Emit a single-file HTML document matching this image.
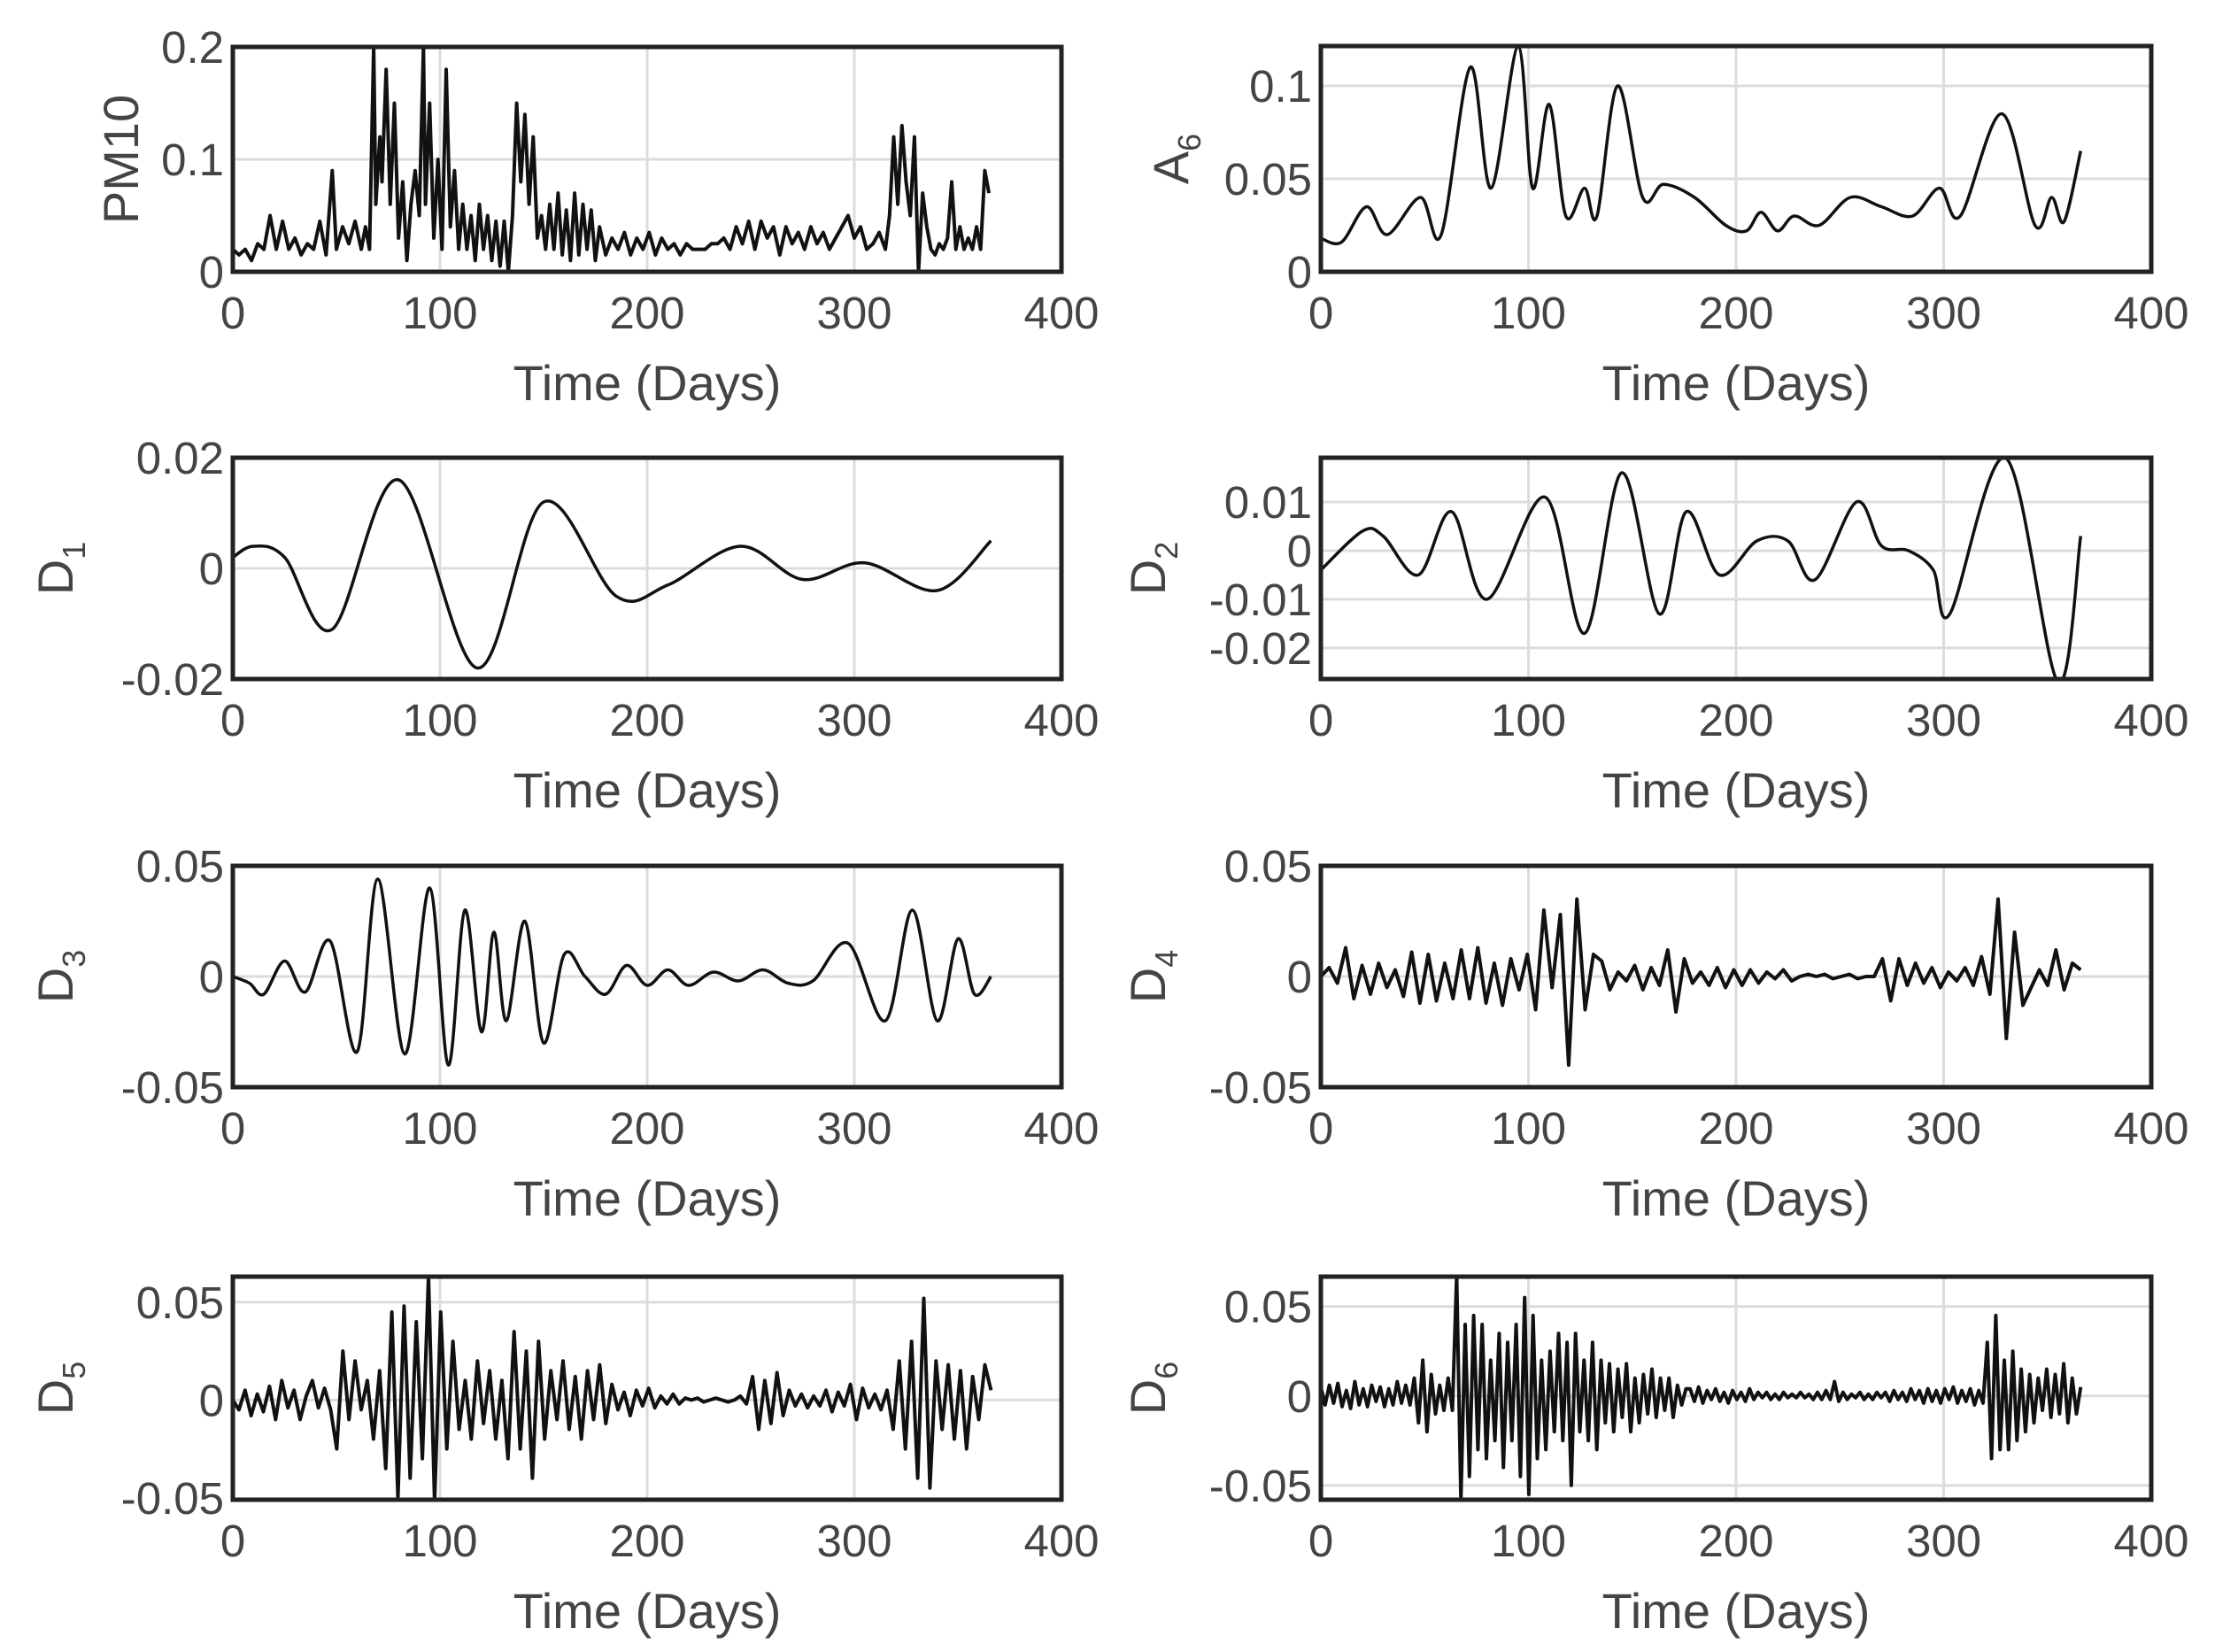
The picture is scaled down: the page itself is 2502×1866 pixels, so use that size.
<!DOCTYPE html>
<html><head><meta charset="utf-8"><style>
html,body{margin:0;padding:0;background:#fff;}
svg{display:block;}
text{font-family:"Liberation Sans",Arial,sans-serif;fill:#444;}
</style></head><body>
<svg id="fig" width="2502" height="1866" viewBox="0 0 2502 1866" xmlns="http://www.w3.org/2000/svg"></svg>
<script>
// ---- data ----
const pm10Days=[0,3,6,9,12,15,18,21,24,27,30,33,36,39,42,45,48,50,53,56,59,62,64,66,68,69,71,72,74,76,78,80,82,84,86,88,90,92,93,95,97,99,101,103,105,107,109,111,113,115,117,119,121,123,125,127,129,131,133,135,137,139,141,143,145,147,149,151,153,155,157,159,161,163,165,167,169,171,173,175,177,180,183,186,189,192,195,198,201,204,207,210,213,216,219,222,225,228,231,234,237,240,243,246,249,252,255,258,261,264,267,270,273,276,279,282,285,288,291,294,297,300,303,306,309,312,315,317,319,321,323,325,327,329,331,333,335,337,339,341,343,345,347,349,351,353,355,357,359,361,363,365];
const pm10Values=[0.02,0.015,0.02,0.01,0.025,0.02,0.05,0.02,0.045,0.02,0.03,0.015,0.025,0.02,0.045,0.015,0.09,0.02,0.04,0.025,0.045,0.02,0.04,0.02,0.2,0.06,0.12,0.08,0.18,0.06,0.15,0.03,0.08,0.01,0.06,0.09,0.05,0.2,0.06,0.15,0.03,0.1,0.02,0.18,0.04,0.09,0.02,0.06,0.02,0.05,0.01,0.06,0.02,0.05,0.01,0.045,0.005,0.045,0.0,0.05,0.15,0.08,0.14,0.06,0.12,0.03,0.05,0.02,0.06,0.02,0.07,0.015,0.055,0.01,0.07,0.015,0.06,0.02,0.055,0.01,0.04,0.015,0.03,0.02,0.035,0.015,0.03,0.02,0.035,0.015,0.03,0.02,0.025,0.015,0.025,0.02,0.02,0.02,0.025,0.025,0.03,0.02,0.04,0.025,0.045,0.02,0.045,0.03,0.04,0.015,0.04,0.025,0.035,0.02,0.04,0.025,0.035,0.02,0.03,0.04,0.05,0.03,0.04,0.02,0.025,0.035,0.02,0.05,0.12,0.06,0.13,0.08,0.05,0.12,0.0,0.07,0.04,0.02,0.015,0.025,0.02,0.03,0.08,0.02,0.04,0.02,0.03,0.02,0.04,0.02,0.09,0.07];
const a6Days=[0,10,22,32,48,58,72,82,95,102,110,118,127,133,143,155,165,180,195,205,212,220,228,240,255,270,285,298,308,328,344,352,358,366];
const a6Values=[0.018,0.016,0.035,0.02,0.04,0.02,0.11,0.045,0.121,0.045,0.09,0.03,0.045,0.03,0.1,0.04,0.047,0.04,0.025,0.022,0.032,0.022,0.03,0.025,0.04,0.035,0.03,0.045,0.03,0.085,0.025,0.04,0.027,0.065];
const d1Days=[0,10,25,48,80,118,150,185,210,245,275,305,340,366];
const d1Values=[0.002,0.004,0.002,-0.011,0.016,-0.018,0.012,-0.005,-0.003,0.004,-0.002,0.001,-0.004,0.005];
const d2Days=[0,20,30,47,63,80,108,127,145,163,176,192,210,225,238,258,270,283,295,303,330,355,366];
const d2Values=[-0.004,0.004,0.003,-0.005,0.008,-0.01,0.011,-0.017,0.016,-0.013,0.008,-0.005,0.002,0.002,-0.006,0.01,0.001,0.0,-0.004,-0.013,0.019,-0.027,0.003];
const d3Days=[0,8,15,25,35,47,60,70,83,95,104,112,120,126,132,141,150,160,170,180,190,200,210,220,232,244,256,268,280,297,315,328,340,350,358,366];
const d3Values=[0,-0.003,-0.008,0.007,-0.007,0.016,-0.034,0.044,-0.035,0.04,-0.04,0.03,-0.025,0.02,-0.02,0.025,-0.03,0.01,0,-0.008,0.005,-0.004,0.003,-0.004,0.002,-0.002,0.003,-0.003,-0.002,0.015,-0.02,0.03,-0.02,0.017,-0.008,0];
const d4Values=[0,0.004,-0.003,0.013,-0.01,0.005,-0.008,0.006,-0.005,0.003,-0.009,0.011,-0.012,0.01,-0.011,0.006,-0.01,0.012,-0.01,0.013,-0.012,0.006,-0.013,0.008,-0.006,0.01,-0.015,0.03,-0.005,0.028,-0.04,0.035,-0.015,0.01,0.007,-0.006,0.002,-0.002,0.005,-0.006,0.004,-0.004,0.012,-0.016,0.008,-0.003,0.002,-0.004,0.004,-0.005,0.003,-0.004,0.003,-0.003,0.002,-0.001,0.003,-0.002,0,0.001,0,0.001,-0.001,0,0.001,-0.001,0,0,0.008,-0.011,0.008,-0.004,0.006,-0.003,0.004,-0.005,0.002,-0.002,0.004,-0.004,0.009,-0.008,0.035,-0.028,0.02,-0.013,-0.005,0.003,-0.004,0.012,-0.006,0.006,0.003];
const d5Values=[0,-0.005,0.005,-0.008,0.003,-0.006,0.007,-0.01,0.01,-0.004,0.005,-0.01,0.002,0.01,-0.004,0.006,-0.005,-0.025,0.025,-0.01,0.02,-0.005,0.01,-0.02,0.015,-0.035,0.045,-0.05,0.048,-0.04,0.04,-0.03,0.063,-0.052,0.045,-0.025,0.03,-0.015,0.01,-0.02,0.02,-0.012,0.015,-0.02,0.01,-0.03,0.035,-0.025,0.025,-0.04,0.03,-0.02,0.015,-0.01,0.02,-0.015,0.012,-0.02,0.015,-0.01,0.018,-0.012,0.008,-0.005,0.004,-0.008,0.005,-0.003,0.006,-0.004,0.002,-0.002,0.003,-0.002,0.001,0,0.001,-0.001,0,0.001,0,-0.001,0,0.002,-0.002,0.012,-0.015,0.01,-0.012,0.014,-0.008,0.005,-0.003,0.003,-0.004,0.002,-0.003,0.005,-0.006,0.004,-0.003,0.008,-0.01,0.006,-0.004,0.003,-0.005,0.005,-0.015,0.02,-0.025,0.03,-0.04,0.052,-0.045,0.02,-0.015,0.018,-0.02,0.015,-0.025,0.012,-0.01,0.018,0.005];
const d6Values=[0.005,-0.005,0.006,-0.004,0.007,-0.006,0.003,-0.007,0.008,-0.005,0.004,-0.006,0.006,-0.003,0.005,-0.006,0.004,-0.005,0.008,-0.004,0.006,-0.005,0.01,-0.015,0.02,-0.02,0.012,-0.01,0.006,-0.008,0.01,-0.008,0.067,-0.058,0.04,-0.045,0.045,-0.03,0.04,-0.035,0.02,-0.025,0.035,-0.04,0.03,-0.025,0.04,-0.045,0.055,-0.055,0.045,-0.035,0.02,-0.03,0.025,-0.02,0.035,-0.025,0.03,-0.05,0.035,-0.02,0.02,-0.025,0.03,-0.03,0.02,-0.015,0.018,-0.02,0.015,-0.012,0.018,-0.02,0.01,-0.015,0.012,-0.01,0.015,-0.012,0.01,-0.008,0.01,-0.012,0.006,-0.005,0.004,0.004,-0.003,0.005,-0.004,0.003,-0.002,0.004,-0.003,0.002,-0.004,0.003,-0.002,0.002,-0.003,0.004,-0.002,0.002,-0.001,0.002,-0.002,0.001,-0.002,0.002,-0.001,0.001,-0.001,0.002,-0.001,0.001,-0.002,0.002,-0.002,0.003,-0.002,0.008,-0.003,0.002,-0.002,0.001,-0.001,0.002,-0.002,0.001,-0.002,0.002,-0.001,0.002,-0.003,0.003,-0.002,0.002,-0.003,0.004,-0.002,0.003,-0.004,0.004,-0.003,0.003,-0.004,0.004,-0.002,0.005,-0.004,0.003,-0.003,0.004,-0.005,0.003,-0.004,0.03,-0.035,0.045,-0.03,0.02,-0.03,0.025,-0.025,0.015,-0.02,0.012,-0.015,0.01,-0.008,0.015,-0.012,0.012,-0.01,0.018,-0.015,0.01,-0.01,0.005];
const xTickValues=[0,100,200,300,400];
const xTickLabels=["0","100","200","300","400"];
const pm10Ticks=[0,0.1,0.2], pm10TickLabels=["0","0.1","0.2"];
const a6Ticks=[0,0.05,0.1], a6TickLabels=["0","0.05","0.1"];
const d1Ticks=[-0.02,0,0.02], d1TickLabels=["-0.02","0","0.02"];
const d2Ticks=[-0.02,-0.01,0,0.01], d2TickLabels=["-0.02","-0.01","0","0.01"];
const d3Ticks=[-0.05,0,0.05], d3TickLabels=["-0.05","0","0.05"];
const d4Ticks=[-0.05,0,0.05], d4TickLabels=["-0.05","0","0.05"];
const d5Ticks=[-0.05,0,0.05], d5TickLabels=["-0.05","0","0.05"];
const d6Ticks=[-0.05,0,0.05], d6TickLabels=["-0.05","0","0.05"];

// ---- layout ----
const NS="http://www.w3.org/2000/svg";
const svg=document.getElementById('fig');
function mk(tag,attrs,parent){const e=document.createElementNS(NS,tag);for(const k in attrs)e.setAttribute(k,attrs[k]);(parent||svg).appendChild(e);return e;}
function evenDays(vals){return vals.map((v,i)=>i*366/(vals.length-1));}
const panels=[
 {name:'pm10',x:263,y:53,w:936,h:254,ymin:0,ymax:0.2,ticks:pm10Ticks,labels:pm10TickLabels,lab:'PM10',sub:'',lx:136,days:pm10Days,vals:pm10Values,smooth:false},
 {name:'a6',x:1492,y:52,w:938,h:255,ymin:0,ymax:0.1214,ticks:a6Ticks,labels:a6TickLabels,lab:'A',sub:'6',lx:1322,days:a6Days,vals:a6Values,smooth:true},
 {name:'d1',x:263,y:517,w:936,h:250,ymin:-0.02,ymax:0.02,ticks:d1Ticks,labels:d1TickLabels,lab:'D',sub:'1',lx:62,days:d1Days,vals:d1Values,smooth:true},
 {name:'d2',x:1492,y:517,w:938,h:250,ymin:-0.0264,ymax:0.0191,ticks:d2Ticks,labels:d2TickLabels,lab:'D',sub:'2',lx:1296,days:d2Days,vals:d2Values,smooth:true},
 {name:'d3',x:263,y:978,w:936,h:250,ymin:-0.05,ymax:0.05,ticks:d3Ticks,labels:d3TickLabels,lab:'D',sub:'3',lx:62,days:d3Days,vals:d3Values,smooth:true},
 {name:'d4',x:1492,y:978,w:938,h:250,ymin:-0.05,ymax:0.05,ticks:d4Ticks,labels:d4TickLabels,lab:'D',sub:'4',lx:1296,days:evenDays(d4Values),vals:d4Values,smooth:false},
 {name:'d5',x:263,y:1442,w:936,h:252,ymin:-0.051,ymax:0.0631,ticks:d5Ticks,labels:d5TickLabels,lab:'D',sub:'5',lx:62,days:evenDays(d5Values),vals:d5Values,smooth:false},
 {name:'d6',x:1492,y:1442,w:938,h:252,ymin:-0.058,ymax:0.0667,ticks:d6Ticks,labels:d6TickLabels,lab:'D',sub:'6',lx:1296,days:evenDays(d6Values),vals:d6Values,smooth:false}
];
panels.forEach(p=>{
  const g=mk('g',{});
  
  
  const sx=d=>p.x+d/400*p.w;
  const sy=v=>p.y+p.h-(v-p.ymin)/(p.ymax-p.ymin)*p.h;
  xTickValues.forEach((t,i)=>{
    if(i>0&&i<xTickValues.length-1){const l=mk('line',{x1:sx(t),x2:sx(t),y1:p.y,y2:p.y+p.h,stroke:'#dcdcdc','stroke-width':3},g);
      
      }
    const tx=mk('text',{x:sx(t),y:p.y+p.h+64,'font-size':51,'text-anchor':'middle'},g);
    tx.textContent=xTickLabels[i];
    
    
  });
  p.ticks.forEach((t,i)=>{
    const y=sy(t);
    if(y>p.y+3&&y<p.y+p.h-3){const l=mk('line',{x1:p.x,x2:p.x+p.w,y1:y,y2:y,stroke:'#dcdcdc','stroke-width':3},g);
      
      }
    const tx=mk('text',{x:p.x-10,y:y+18,'font-size':51,'text-anchor':'end'},g);
    tx.textContent=p.labels[i];
    
    
  });
  const pts=p.days.map((d,i)=>[sx(d),sy(p.vals[i])]);
  let dstr='M'+pts[0][0].toFixed(1)+','+pts[0][1].toFixed(1);
  if(p.smooth){
    for(let i=0;i<pts.length-1;i++){
      const p0=pts[Math.max(0,i-1)],p1=pts[i],p2=pts[i+1],p3=pts[Math.min(pts.length-1,i+2)];
      const c1=[p1[0]+(p2[0]-p0[0])/6,p1[1]+(p2[1]-p0[1])/6];
      const c2=[p2[0]-(p3[0]-p1[0])/6,p2[1]-(p3[1]-p1[1])/6];
      dstr+=' C'+c1[0].toFixed(1)+','+c1[1].toFixed(1)+' '+c2[0].toFixed(1)+','+c2[1].toFixed(1)+' '+p2[0].toFixed(1)+','+p2[1].toFixed(1);
    }
  } else {
    for(let i=1;i<pts.length;i++) dstr+=' L'+pts[i][0].toFixed(1)+','+pts[i][1].toFixed(1);
  }
  const clipId='clip-'+p.name;
  const cp=mk('clipPath',{id:clipId},g);mk('rect',{x:p.x,y:p.y,width:p.w,height:p.h},cp);
  const path=mk('path',{d:dstr,fill:'none',stroke:'#111','stroke-width':p.smooth?3.5:4,'stroke-linejoin':'round','clip-path':'url(#'+clipId+')'},g);
  
  
  const fr=mk('rect',{x:p.x,y:p.y,width:p.w,height:p.h,fill:'none',stroke:'#222','stroke-width':5},g);
  
  
  const xl=mk('text',{x:p.x+p.w/2,y:p.y+p.h+145,'font-size':56,'text-anchor':'middle'},g);
  xl.textContent='Time (Days)';
  
  
  const cy=p.y+p.h/2;
  const yl=mk('text',{x:0,y:0,'font-size':56,'text-anchor':'middle',transform:'translate('+(p.lx+20)+','+cy+') rotate(-90)'},g);
  
  
  const m=mk('tspan',{},yl);m.textContent=p.lab;
  if(p.sub){const s=mk('tspan',{'font-size':36,dy:14},yl);s.textContent=p.sub;}
});
</script>
</body></html>
